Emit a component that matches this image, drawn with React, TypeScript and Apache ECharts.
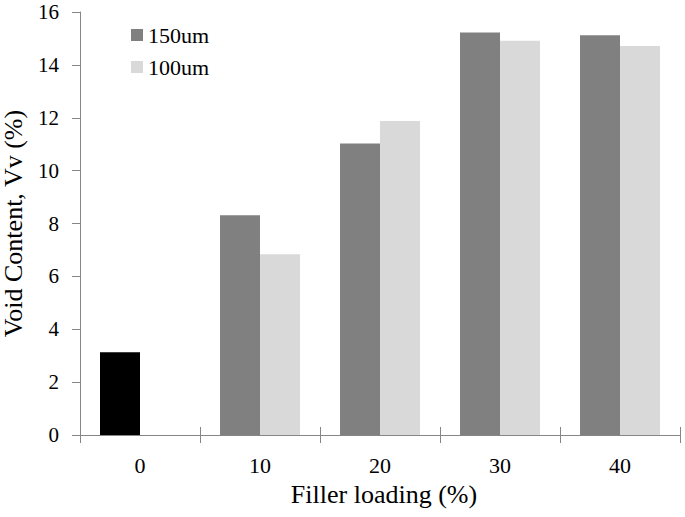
import React, { useEffect, useRef } from "react";
import * as echarts from "echarts";

const categories = ["0", "10", "20", "30", "40"];
const series150 = [3.13, 8.31, 11.03, 15.22, 15.12];
const series100 = [null, 6.84, 11.88, 14.91, 14.71];
const yTicks = { min: 0, max: 16, interval: 2 };

const FONT = "Liberation Serif";
const AXIS_COLOR = "#868686";

export default function App() {
  const ref = useRef<HTMLDivElement>(null);
  useEffect(() => {
    if (!ref.current) return;
    const chart = echarts.init(ref.current, undefined, { renderer: "svg" });
    chart.setOption({
      animation: false,
      backgroundColor: "#ffffff",
      textStyle: { fontFamily: FONT },
      grid: {
        left: 80,
        right: 5,
        top: 12,
        bottom: 82,
        containLabel: false,
        outerBoundsMode: "none",
      },
      legend: {
        orient: "vertical",
        left: 131,
        top: 24,
        padding: 0,
        itemWidth: 12,
        itemHeight: 12,
        itemGap: 10,
        icon: "rect",
        textStyle: { fontFamily: FONT, fontSize: 22, color: "#000", lineHeight: 22 },
        data: ["150um", "100um"],
      },
      xAxis: [
        {
          type: "category",
          data: categories,
          position: "bottom",
          name: "Filler loading (%)",
          nameLocation: "middle",
          nameGap: 46,
          nameTextStyle: { fontFamily: FONT, fontSize: 26, color: "#000", padding: [0, 0, 0, 8] },
          axisLine: { lineStyle: { color: AXIS_COLOR, width: 1 } },
          axisTick: { show: true, alignWithLabel: false, length: 8, inside: false, lineStyle: { color: AXIS_COLOR } },
          axisLabel: { fontFamily: FONT, fontSize: 22, color: "#000", margin: 19 },
          splitLine: { show: false },
        },
        {
          type: "category",
          data: categories,
          position: "bottom",
          axisLine: { show: false },
          axisTick: { show: true, alignWithLabel: false, length: 8, inside: true, lineStyle: { color: AXIS_COLOR } },
          axisLabel: { show: false },
          splitLine: { show: false },
        },
      ],
      yAxis: {
        type: "value",
        min: yTicks.min,
        max: yTicks.max,
        interval: yTicks.interval,
        name: "Void Content, Vv (%)",
        nameLocation: "middle",
        nameGap: 54,
        nameTextStyle: { fontFamily: FONT, fontSize: 26, color: "#000" },
        axisLine: { show: true, lineStyle: { color: AXIS_COLOR, width: 1 } },
        axisTick: { show: true, length: 8, lineStyle: { color: AXIS_COLOR } },
        axisLabel: { fontFamily: FONT, fontSize: 21, color: "#000", margin: 21 },
        splitLine: { show: false },
      },
      series: [
        {
          name: "150um",
          type: "bar",
          barWidth: 40,
          barGap: "0%",
          itemStyle: { color: "#808080" },
          data: series150.map((v, i) =>
            i === 0 ? { value: v, itemStyle: { color: "#000000" } } : v
          ),
        },
        {
          name: "100um",
          type: "bar",
          barWidth: 40,
          barGap: "0%",
          itemStyle: { color: "#d9d9d9" },
          data: series100,
        },
      ],
    });
    return () => chart.dispose();
  }, []);
  return (
    <div
      ref={ref}
      style={{ position: "absolute", left: 0, top: 0, width: 685, height: 517 }}
    />
  );
}
